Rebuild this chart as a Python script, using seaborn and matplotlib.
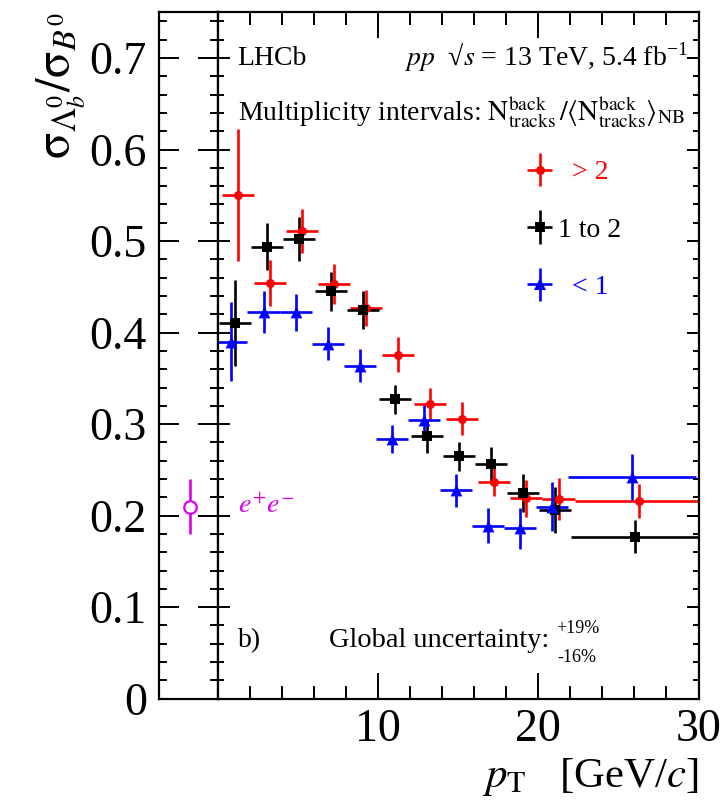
import numpy as np
import pandas as pd
import matplotlib
matplotlib.use("Agg")
import matplotlib.pyplot as plt
import seaborn as sns
from matplotlib.ticker import MultipleLocator, FuncFormatter
from matplotlib.container import ErrorbarContainer
from matplotlib.lines import Line2D
from matplotlib.collections import LineCollection
from matplotlib.legend_handler import HandlerErrorbar

# ---------------- data ----------------
bin_lo = [0, 2, 4, 6, 8, 10, 12, 14, 16, 18, 20, 22]
bin_hi = [2, 4, 6, 8, 10, 12, 14, 16, 18, 20, 22, 30]
groups = ["> 2", "1 to 2", "< 1"]

ratio_high = [0.550, 0.454, 0.511, 0.453, 0.427, 0.376, 0.322, 0.306, 0.237, 0.219, 0.218, 0.216]
err_high = [0.072, 0.025, 0.024, 0.022, 0.020, 0.019, 0.017, 0.018, 0.016, 0.020, 0.023, 0.019]

ratio_mid = [0.411, 0.494, 0.502, 0.445, 0.425, 0.327, 0.287, 0.265, 0.256, 0.225, 0.206, 0.177]
err_mid = [0.047, 0.026, 0.024, 0.021, 0.021, 0.016, 0.018, 0.016, 0.019, 0.021, 0.025, 0.018]

ratio_low = [0.390, 0.423, 0.422, 0.388, 0.364, 0.284, 0.304, 0.228, 0.189, 0.186, 0.210, 0.242]
err_low = [0.043, 0.023, 0.020, 0.018, 0.018, 0.015, 0.017, 0.018, 0.019, 0.022, 0.027, 0.025]

ee_label = ["e+e-"]
ee_ratio = [0.210]
ee_err = [0.030]

# ---------------- style ----------------
colors = {"> 2": "#ff0000", "1 to 2": "#000000", "< 1": "#0000ff"}
markers = {"> 2": "o", "1 to 2": "s", "< 1": "^"}
msizes = {"> 2": 6.5, "1 to 2": 7.0, "< 1": 8.5}
shift = {"> 2": 0.27, "1 to 2": 0.07, "< 1": -0.13}
magenta = "#dd00f0"

sns.set_style("ticks")
plt.rcParams.update({
    "font.family": ["Liberation Serif", "DejaVu Serif"],
    "mathtext.fontset": "stix",
    "text.color": "black", "axes.labelcolor": "black", "axes.edgecolor": "black",
    "xtick.color": "black", "ytick.color": "black",
    "axes.linewidth": 1.6,
    "xtick.major.width": 1.4, "ytick.major.width": 1.4,
    "xtick.minor.width": 1.4, "ytick.minor.width": 1.4,
})

rows = []
vals = {"> 2": (ratio_high, err_high), "1 to 2": (ratio_mid, err_mid), "< 1": (ratio_low, err_low)}
for g in groups:
    r, e = vals[g]
    for lo, hi, rv, ev in zip(bin_lo, bin_hi, r, e):
        rows.append({"group": g, "pt": (lo + hi) / 2 + shift[g], "xerr": (hi - lo) / 2,
                     "ratio": rv, "err": ev})
df = pd.DataFrame(rows)
df_ee = pd.DataFrame({"label": ee_label, "ratio": ee_ratio, "err": ee_err})

W, H = 728, 809
fig = plt.figure(figsize=(W / 100, H / 100), dpi=100)
x_l, x_m, x_r = 159.3, 217.5, 698.5
y_t, y_b = 12.3, 698.7
ax0 = fig.add_axes([x_l / W, 1 - y_b / H, (x_m - x_l) / W, (y_b - y_t) / H])
ax = fig.add_axes([x_m / W, 1 - y_b / H, (x_r - x_m) / W, (y_b - y_t) / H])

# ---- main panel ----
for g in groups:
    d = df[df.group == g]
    ax.errorbar(d.pt, d.ratio, xerr=d.xerr, yerr=d.err, fmt="none",
                ecolor=colors[g], elinewidth=1.9, capsize=0, zorder=2)
    sns.scatterplot(data=d, x="pt", y="ratio", marker=markers[g], color=colors[g],
                    s=msizes[g] ** 2, linewidth=0, ax=ax, zorder=3, legend=False)

ax.set_xlim(0, 30)
ax.set_ylim(0, 0.75)
ax.set_xlabel("")
ax.set_ylabel("")
ax.xaxis.set_major_locator(MultipleLocator(10))
ax.xaxis.set_minor_locator(MultipleLocator(2))
ax.yaxis.set_major_locator(MultipleLocator(0.1))
ax.yaxis.set_minor_locator(MultipleLocator(0.02))
ax.xaxis.set_major_formatter(FuncFormatter(lambda v, p: "" if abs(v) < 1e-9 else f"{v:g}"))
ax.tick_params(axis="x", which="both", direction="in", top=True, bottom=True, labelsize=33, pad=7)
ax.tick_params(axis="x", which="major", length=19)
ax.tick_params(axis="x", which="minor", length=9.5)
ax.tick_params(axis="y", which="both", direction="in", left=True, right=True, labelleft=False)
ax.tick_params(axis="y", which="major", length=8.6)
ax.tick_params(axis="y", which="minor", length=4)
for s in ax.spines.values():
    s.set_visible(True)
    s.set_linewidth(1.6)
    s.set_color("black")

# legend with error-bar handles
handles = []
for g in groups:
    ln = Line2D([], [], marker=markers[g], color=colors[g], ms=msizes[g], ls="none", mew=0)
    bc = LineCollection([], colors=colors[g], linewidths=1.9)
    handles.append(ErrorbarContainer((ln, [], [bc]), has_xerr=True, has_yerr=True, label=g))
leg = ax.legend(handles=handles, labels=["  > 2", "1 to 2", "  < 1"],
                loc="center left", bbox_to_anchor=((526 - x_m) / (x_r - x_m), (y_b - 230) / (y_b - y_t)),
                frameon=False, fontsize=20, handlelength=1.0, handletextpad=0.15,
                labelspacing=1.15, borderpad=0, borderaxespad=0,
                handler_map={ErrorbarContainer: HandlerErrorbar(xerr_size=0.45, yerr_size=0.6)})
for t, g in zip(leg.get_texts(), groups):
    t.set_color(colors[g])

fx = lambda px: (px - x_m) / (x_r - x_m)
fy = lambda py: (y_b - py) / (y_b - y_t)
T = ax.transAxes
ax.text(fx(237.7), fy(65), "LHCb", transform=T, fontsize=20, va="baseline", ha="left")
ax.text(fx(688), fy(65), "$pp$  \u221a$s$ = 13 TeV, 5.4 fb$^{\\mathregular{-1}}$", transform=T,
        fontsize=20, va="baseline", ha="right")
ax.text(fx(237.7), fy(120.7),
        r"Multiplicity intervals: $\mathrm{N}^{\mathrm{back}}_{\mathrm{tracks}}\,/\langle\mathrm{N}^{\mathrm{back}}_{\mathrm{tracks}}\rangle_{\mathrm{NB}}$",
        transform=T, fontsize=20, va="baseline", ha="left")
ax.text(fx(238), fy(513), r"$e^{+}e^{-}$", transform=T, fontsize=20, color=magenta,
        va="baseline", ha="left")
ax.text(fx(237.7), fy(646.7), "b)", transform=T, fontsize=20, va="baseline", ha="left")
ax.text(fx(328.7), fy(646.7), "Global uncertainty:", transform=T, fontsize=20.5,
        va="baseline", ha="left")
ax.text(fx(556), fy(633.3), "+19%", transform=T, fontsize=13, va="baseline", ha="left")
ax.text(fx(557), fy(662.3), "-16%", transform=T, fontsize=13, va="baseline", ha="left")

# ---- left (e+e-) panel ----
ax0.errorbar(df_ee.label, df_ee.ratio, yerr=df_ee.err, fmt="none", ecolor=magenta,
             elinewidth=1.9, capsize=0, zorder=2)
sns.scatterplot(data=df_ee, x="label", y="ratio", marker="o", s=9 ** 2, facecolor="white",
                edgecolor=magenta, linewidth=1.6, ax=ax0, zorder=3, legend=False)
ax0.set_xlim(-0.52, 0.48)
ax0.set_ylim(0, 0.75)
ax0.set_xlabel("")
ax0.set_ylabel("")
ax0.set_xticks([])
ax0.yaxis.set_major_locator(MultipleLocator(0.1))
ax0.yaxis.set_minor_locator(MultipleLocator(0.02))
ax0.yaxis.set_major_formatter(FuncFormatter(lambda v, p: f"{v:g}"))
ax0.tick_params(axis="y", which="both", direction="in", left=True, right=True, labelsize=33, pad=9)
ax0.tick_params(axis="y", which="major", length=14.4)
ax0.tick_params(axis="y", which="minor", length=6)
for s in ax0.spines.values():
    s.set_visible(True)
    s.set_linewidth(1.6)
    s.set_color("black")

# axis titles
fig.text(35 / W, 1 - 13 / H,
         r"$\mathrm{\sigma}_{\mathit{\Lambda}_{b}^{0}}/\mathrm{\sigma}_{B^{0}}$",
         rotation=90, fontsize=35, ha="left", va="top")
fig.text(699 / W, 1 - 786.7 / H, r"$p_{\mathrm{T}}$   [GeV/$c$]", fontsize=31,
         ha="right", va="baseline")

fig.savefig("out.png", dpi=100)
